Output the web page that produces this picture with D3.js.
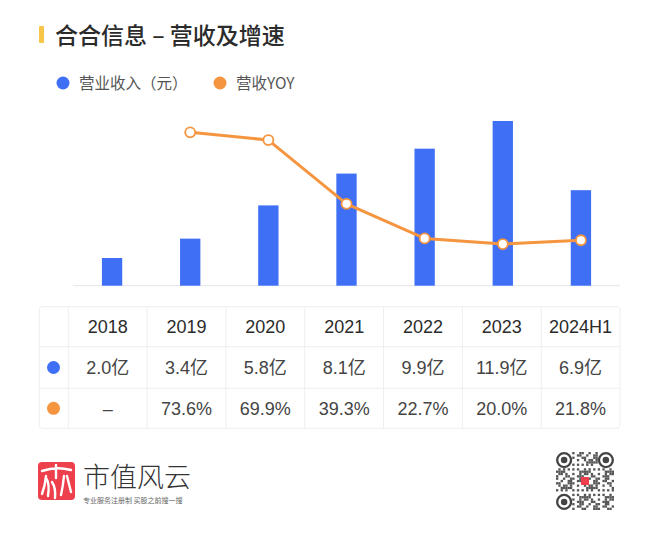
<!DOCTYPE html>
<html>
<head>
<meta charset="utf-8">
<script src="https://cdn.jsdelivr.net/npm/d3@7"></script>
<style>
  html, body { margin: 0; padding: 0; background: #fff; }
  svg { display: block; font-family: "Noto Sans CJK SC", "Noto Sans", sans-serif; }
</style>
</head>
<body>
<div id="chart"></div>
<script>
// Data
const years = ['2018', '2019', '2020', '2021', '2022', '2023', '2024H1'];
const revenue = [2.0, 3.4, 5.8, 8.1, 9.9, 11.9, 6.9];          // 亿元
const yoy = [null, 73.6, 69.9, 39.3, 22.7, 20.0, 21.8];        // %
const revenueLabels = ['2.0亿', '3.4亿', '5.8亿', '8.1亿', '9.9亿', '11.9亿', '6.9亿'];
const yoyLabels = ['–', '73.6%', '69.9%', '39.3%', '22.7%', '20.0%', '21.8%'];

const BLUE = '#3e6ff5';
const ORANGE = '#f5953f';

const width = 660, height = 540;
const svg = d3.select('#chart').append('svg')
    .attr('width', width)
    .attr('height', height);

// Title
svg.append('rect')
    .attr('x', 39).attr('y', 26)
    .attr('width', 5).attr('height', 17)
    .attr('rx', 1)
    .attr('fill', '#f7c548');
svg.append('text')
    .attr('x', 55).attr('y', 44)
    .attr('font-size', 23)
    .attr('font-weight', 500)
    .attr('fill', '#2b2b2b')
    .attr('xml:space', 'preserve')
    .text('合合信息 – 营收及增速');

// Legend
const legend = [
    { label: '营业收入（元）', color: BLUE, x: 63 },
    { label: '营收YOY', color: ORANGE, x: 220 }
];
const lg = svg.append('g').selectAll('g').data(legend).join('g')
    .attr('transform', d => `translate(${d.x},83)`);
lg.append('circle').attr('r', 6.5).attr('fill', d => d.color);
lg.append('text')
    .attr('x', 16).attr('y', 5.5)
    .attr('font-size', 15.5)
    .attr('fill', '#555')
    .text(d => d.label);

// Scales
const x = d3.scaleBand()
    .domain(years)
    .range([73, 620])
    .paddingInner(0.74)
    .paddingOuter(0.37);
const y = d3.scaleLinear().domain([0, 12]).range([285.7, 119.6]);
const y2 = d3.scaleLinear().domain([0, 80]).range([285.7, 119]);

// Baseline
svg.append('line')
    .attr('x1', 73).attr('x2', 620)
    .attr('y1', y(0)).attr('y2', y(0))
    .attr('stroke', '#e4e6ea')
    .attr('stroke-width', 1);

// Bars
svg.append('g').selectAll('rect')
    .data(years.map((yr, i) => ({ yr, v: revenue[i] })))
    .join('rect')
    .attr('x', d => x(d.yr))
    .attr('y', d => y(d.v))
    .attr('width', x.bandwidth())
    .attr('height', d => y(0) - y(d.v))
    .attr('fill', BLUE);

// YOY line
const yoyData = years.map((yr, i) => ({ yr, v: yoy[i] })).filter(d => d.v != null);
const cx = d => x(d.yr) + x.bandwidth() / 2;
svg.append('path')
    .datum(yoyData)
    .attr('fill', 'none')
    .attr('stroke', ORANGE)
    .attr('stroke-width', 3)
    .attr('stroke-linejoin', 'round')
    .attr('d', d3.line().x(cx).y(d => y2(d.v)));
svg.append('g').selectAll('circle')
    .data(yoyData)
    .join('circle')
    .attr('cx', cx)
    .attr('cy', d => y2(d.v))
    .attr('r', 5)
    .attr('fill', '#fff')
    .attr('stroke', ORANGE)
    .attr('stroke-width', 1.8);

// Table
const tableLeft = 39.3, tableTop = 306.7;
const rowEdges = [306.7, 346.7, 388.3, 428.3];
const col = d3.scaleBand().domain(years).range([68.3, 620]);
const grid = '#eceef1';
const tg = svg.append('g');
tg.append('rect')
    .attr('x', tableLeft).attr('y', tableTop)
    .attr('width', 620 - tableLeft).attr('height', rowEdges[3] - tableTop)
    .attr('rx', 3)
    .attr('fill', 'none')
    .attr('stroke', grid);
tg.selectAll('line.h').data(rowEdges.slice(1, 3)).join('line')
    .attr('class', 'h')
    .attr('x1', tableLeft).attr('x2', 620)
    .attr('y1', d => d).attr('y2', d => d)
    .attr('stroke', grid);
tg.selectAll('line.v').data([68.3, ...years.slice(1).map(yr => col(yr))]).join('line')
    .attr('class', 'v')
    .attr('x1', d => d).attr('x2', d => d)
    .attr('y1', tableTop).attr('y2', rowEdges[3])
    .attr('stroke', grid);

const rowMid = i => (rowEdges[i] + rowEdges[i + 1]) / 2;
const colMid = yr => col(yr) + col.bandwidth() / 2;
const rows = [years, revenueLabels, yoyLabels];
rows.forEach((cells, r) => {
    tg.append('g').selectAll('text')
        .data(cells.map((t, i) => ({ t, yr: years[i] })))
        .join('text')
        .attr('x', d => colMid(d.yr))
        .attr('y', rowMid(r) + 6.5)
        .attr('text-anchor', 'middle')
        .attr('font-family', '"Liberation Sans", "Noto Sans CJK SC", sans-serif')
        .attr('font-size', 18)
        .attr('fill', r === 0 ? '#2b2b2b' : '#444')
        .text(d => d.t);
});
tg.append('circle').attr('cx', 53.5).attr('cy', rowMid(1)).attr('r', 6.5).attr('fill', BLUE);
tg.append('circle').attr('cx', 53.5).attr('cy', rowMid(2)).attr('r', 6.5).attr('fill', ORANGE);

// Footer logo
const logo = svg.append('g').attr('transform', 'translate(38,462)');
logo.append('rect').attr('width', 37).attr('height', 38).attr('rx', 4).attr('fill', '#ee3f4d');
logo.append('path')
    .attr('d', 'M4,9 Q18,4 33,8 M18,3 L18,16 M8,14 Q7,24 4,32 M8,16 Q12,22 10,34 M26,14 Q25,24 23,33 M29,14 Q31,22 33,30 M14,20 Q18,26 17,36')
    .attr('fill', 'none')
    .attr('stroke', '#fff')
    .attr('stroke-width', 2.4)
    .attr('stroke-linecap', 'round');
svg.append('text')
    .attr('x', 83).attr('y', 487)
    .attr('font-size', 27)
    .attr('font-weight', 300)
    .attr('fill', '#333')
    .text('市值风云');
svg.append('text')
    .attr('x', 83).attr('y', 503)
    .attr('font-size', 7)
    .attr('fill', '#666')
    .text('专业服务注册制 买股之前搜一搜');

// Footer QR code (decorative)
const qr = svg.append('g').attr('transform', 'translate(556,452)');
const n = 25, cell = 58 / n;
const cells = [];
for (let i = 0; i < n; i++) {
    for (let j = 0; j < n; j++) {
        const inFinder = (i < 7 && j < 7) || (i < 7 && j >= n - 7) || (i >= n - 7 && j < 7);
        const h = ((i * 73 + j * 151 + i * j * 17) % 11);
        if (!inFinder && h < 5) cells.push([i, j]);
    }
}
qr.selectAll('rect').data(cells).join('rect')
    .attr('x', d => d[1] * cell).attr('y', d => d[0] * cell)
    .attr('width', cell).attr('height', cell)
    .attr('fill', '#555');
[[3.5, 3.5], [3.5, n - 3.5], [n - 3.5, 3.5]].forEach(([i, j]) => {
    qr.append('circle').attr('cx', j * cell).attr('cy', i * cell).attr('r', cell * 3).attr('fill', 'none').attr('stroke', '#444').attr('stroke-width', cell);
    qr.append('circle').attr('cx', j * cell).attr('cy', i * cell).attr('r', cell * 1.4).attr('fill', '#444');
});
qr.append('rect').attr('x', 25).attr('y', 25).attr('width', 8).attr('height', 8).attr('fill', '#ee3f4d');
</script>
</body>
</html>
